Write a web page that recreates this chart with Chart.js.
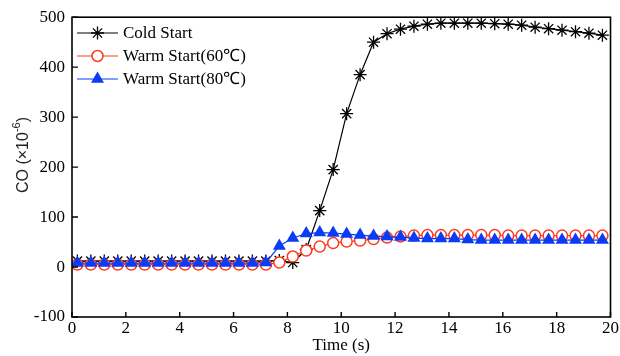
<!DOCTYPE html>
<html>
<head>
<meta charset="utf-8">
<script src="https://cdn.jsdelivr.net/npm/chart.js@4.4.1/dist/chart.umd.min.js"></script>
<style>
  html, body { margin: 0; padding: 0; background: #fff; }
  #wrap { width: 620px; height: 356px; }
</style>
</head>
<body>
<div id="wrap"><canvas id="coChart" width="620" height="356"></canvas></div>
<script>
/* values */
var times = [0.2, 0.7, 1.2, 1.7, 2.2, 2.7, 3.2, 3.7, 4.2, 4.7,
             5.2, 5.7, 6.2, 6.7, 7.2, 7.7, 8.2, 8.7, 9.2, 9.7,
             10.2, 10.7, 11.2, 11.7, 12.2, 12.7, 13.2, 13.7, 14.2, 14.7,
             15.2, 15.7, 16.2, 16.7, 17.2, 17.7, 18.2, 18.7, 19.2, 19.7];
var coldStart = [12, 12, 12, 12, 12, 12, 12, 12, 12, 12,
                 12, 12, 12, 12, 12, 13, 9, 35, 113, 195,
                 307, 385, 450, 467, 476, 482, 486, 488, 488, 488,
                 488, 487, 486, 484, 480, 477, 474, 471, 468, 464];
var warm60 = [5, 5, 5, 5, 5, 5, 5, 5, 5, 5,
              5, 5, 5, 5, 5, 9, 21, 33, 41, 48,
              51, 53, 56, 59, 61, 63, 64, 64, 64, 64,
              64, 64, 63, 63, 63, 63, 63, 63, 63, 63];
var warm80 = [8, 8, 8, 8, 8, 8, 8, 8, 8, 8,
              8, 8, 8, 8, 9, 42, 58, 67, 69, 68,
              66, 64, 62, 61, 60, 58, 57, 57, 57, 55,
              54, 54, 54, 54, 54, 54, 54, 54, 54, 54];
var seriesNames = ['Cold Start', 'Warm Start(60\u2103)', 'Warm Start(80\u2103)'];
var xTicks = [0, 2, 4, 6, 8, 10, 12, 14, 16, 18, 20];
var yTicks = [-100, 0, 100, 200, 300, 400, 500];

var serif = "'Liberation Serif', 'Times New Roman', serif";
var sans = "'Liberation Sans', Arial, sans-serif";
var red = '#ff3a1e';
var blue = '#0b3cf5';

function pts(vals) {
    return vals.map(function(v, i) { return { x: times[i], y: v }; });
}

// draws one marker like the chart's point styles, for the legend
function marker(ctx, style, x, y, color) {
    ctx.save();
    ctx.strokeStyle = color;
    ctx.fillStyle = color;
    ctx.beginPath();
    if (style == 'star') {
        var r = 6.5;
        ctx.lineWidth = 1.3;
        ctx.moveTo(x - r, y); ctx.lineTo(x + r, y);
        ctx.moveTo(x, y - r); ctx.lineTo(x, y + r);
        var d = r * Math.SQRT1_2;
        ctx.moveTo(x - d, y - d); ctx.lineTo(x + d, y + d);
        ctx.moveTo(x - d, y + d); ctx.lineTo(x + d, y - d);
        ctx.stroke();
    } else if (style == 'circle') {
        ctx.lineWidth = 1.5;
        ctx.fillStyle = '#fff';
        ctx.arc(x, y, 5.5, 0, Math.PI * 2);
        ctx.fill();
        ctx.stroke();
    } else {
        var t = 7.5;
        ctx.moveTo(x, y - t);
        ctx.lineTo(x + t * 0.866, y + t * 0.5);
        ctx.lineTo(x - t * 0.866, y + t * 0.5);
        ctx.closePath();
        ctx.fill();
    }
    ctx.restore();
}

const framePlugin = {
    id: 'frame',
    afterDatasetsDraw(chart) {
        const ctx = chart.ctx;
        const a = chart.chartArea;
        const xs = chart.scales.x;
        const ys = chart.scales.y;
        ctx.save();
        ctx.strokeStyle = '#000';
        ctx.lineWidth = 1.6;
        ctx.strokeRect(a.left, a.top, a.right - a.left, a.bottom - a.top);
        ctx.lineWidth = 1.4;
        ctx.beginPath();
        xTicks.forEach(function(v) {
            const px = xs.getPixelForValue(v);
            ctx.moveTo(px, a.bottom);
            ctx.lineTo(px, a.bottom - 5);
        });
        yTicks.forEach(function(v) {
            const py = ys.getPixelForValue(v);
            ctx.moveTo(a.left, py);
            ctx.lineTo(a.left + 6, py);
        });
        ctx.stroke();

        // legend: line + marker + text
        const rows = [33, 56, 79];
        const styles = ['star', 'circle', 'triangle'];
        const colors = ['#000', red, blue];
        ctx.font = '17px ' + serif;
        ctx.textBaseline = 'middle';
        rows.forEach(function(y, i) {
            ctx.strokeStyle = colors[i];
            ctx.lineWidth = 1.2;
            ctx.beginPath();
            ctx.moveTo(77, y);
            ctx.lineTo(118, y);
            ctx.stroke();
            marker(ctx, styles[i], 97.5, y, colors[i]);
            ctx.fillStyle = '#000';
            ctx.fillText(seriesNames[i], 123, y + 1);
        });

        // y axis title with a real superscript
        ctx.translate(28, 155);
        ctx.rotate(-Math.PI / 2);
        ctx.fillStyle = '#222';
        ctx.textBaseline = 'alphabetic';
        const main = 'CO (\u00d710';
        ctx.font = '11px ' + sans;
        const supW = ctx.measureText('-6').width;
        ctx.font = '16px ' + sans;
        const total = ctx.measureText(main).width + supW + ctx.measureText(')').width;
        let x0 = -total / 2;
        ctx.fillText(main, x0, 0);
        x0 += ctx.measureText(main).width;
        ctx.font = '11px ' + sans;
        ctx.fillText('-6', x0, -8);
        x0 += supW;
        ctx.font = '16px ' + sans;
        ctx.fillText(')', x0, 0);
        ctx.restore();
    }
};

const ctx = document.getElementById('coChart').getContext('2d');
const chart = new Chart(ctx, {
    type: 'line',
    data: {
        datasets: [{
            label: seriesNames[0],
            data: pts(coldStart),
            borderColor: '#000',
            borderWidth: 1.2,
            pointStyle: 'star',
            pointRadius: 6.5,
            pointBorderWidth: 1.3,
            pointBorderColor: '#000',
            pointBackgroundColor: '#000',
            order: 3
        }, {
            label: seriesNames[1],
            data: pts(warm60),
            borderColor: red,
            borderWidth: 1.2,
            pointStyle: 'circle',
            pointRadius: 5.5,
            pointBorderWidth: 1.5,
            pointBorderColor: red,
            pointBackgroundColor: '#fff',
            order: 2
        }, {
            label: seriesNames[2],
            data: pts(warm80),
            borderColor: blue,
            borderWidth: 1.2,
            pointStyle: 'triangle',
            pointRadius: 7.5,
            pointBorderWidth: 0,
            pointBorderColor: blue,
            pointBackgroundColor: blue,
            order: 1
        }]
    },
    options: {
        responsive: false,
        animation: false,
        devicePixelRatio: 1,
        layout: {
            padding: { left: 0, right: 8, top: 17, bottom: 0 }
        },
        plugins: {
            legend: { display: false },
            tooltip: { enabled: false }
        },
        scales: {
            x: {
                type: 'linear',
                min: 0,
                max: 20,
                afterBuildTicks: function(scale) {
                    scale.ticks = xTicks.map(function(v) { return { value: v }; });
                },
                grid: { display: false, drawTicks: false },
                border: { display: false },
                ticks: {
                    color: '#000',
                    font: { family: serif, size: 17 },
                    padding: 1,
                    maxRotation: 0
                },
                title: {
                    display: true,
                    text: 'Time (s)',
                    color: '#000',
                    font: { family: serif, size: 17 },
                    padding: { top: -6, bottom: 0 }
                },
                afterFit: function(scale) { scale.height = 39; }
            },
            y: {
                min: -100,
                max: 500,
                afterBuildTicks: function(scale) {
                    scale.ticks = yTicks.map(function(v) { return { value: v }; });
                },
                grid: { display: false, drawTicks: false },
                border: { display: false },
                ticks: {
                    color: '#000',
                    font: { family: serif, size: 17 },
                    padding: 7
                },
                afterFit: function(scale) { scale.width = 72; }
            }
        }
    },
    plugins: [framePlugin]
});
</script>
</body>
</html>
